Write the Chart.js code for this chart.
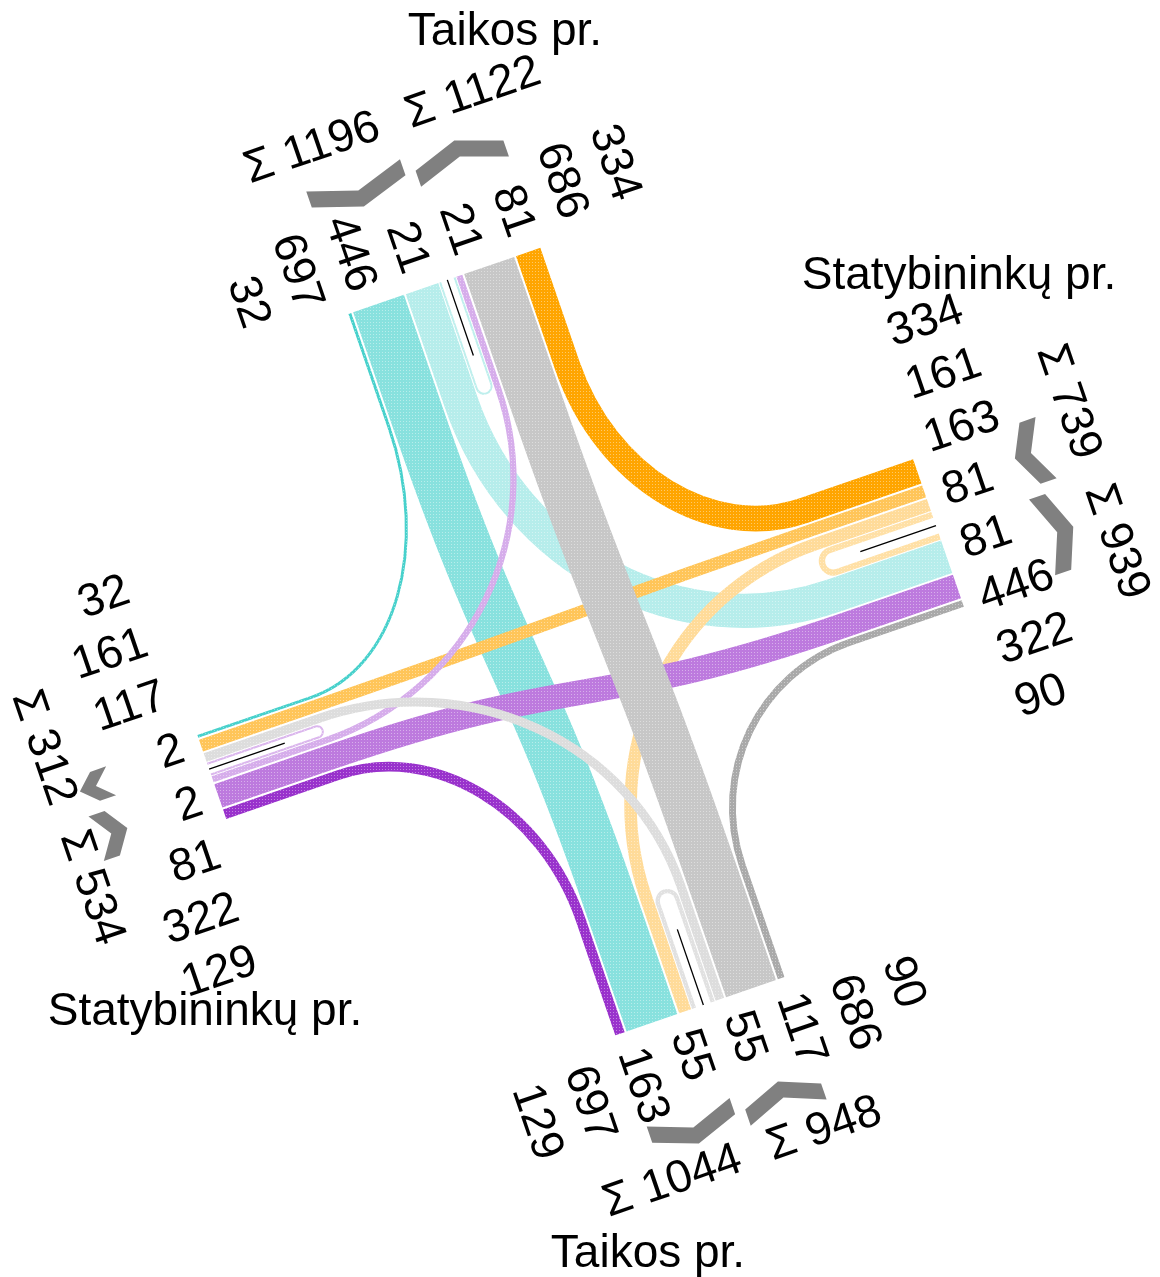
<!DOCTYPE html>
<html lang="lt">
<head>
<meta charset="utf-8">
<title>Taikos pr. / Statybininkų pr.</title>
<script src="https://cdn.jsdelivr.net/npm/chart.js@4.4.1/dist/chart.umd.min.js"></script>
<style>
  html, body { margin: 0; padding: 0; background: #ffffff; }
  canvas { display: block; }
</style>
</head>
<body>
<canvas id="flows" width="1160" height="1277"></canvas>
<script>
// approaches, clockwise from the top of the picture
const approaches = ['N', 'E', 'S', 'W']
const streetNames = ['Taikos pr.', 'Statybininkų pr.', 'Taikos pr.', 'Statybininkų pr.']

// counted vehicles leaving each approach: [u-turn, left, straight, right]
const fromN = [21, 446, 697, 32]
const fromE = [81, 163, 161, 334]
const fromS = [55, 117, 686, 90]
const fromW = [2, 81, 322, 129]

// colour family per approach, and how much white goes in per movement
const familyColors = ['#48D1CC', '#FFA500', '#A9A9A9', '#9932CC']
const movementTint = [0.65, 0.6, 0.35, 0]

const counts = [fromN, fromE, fromS, fromW]

// ---- layout (local frame: u to the right, v down, then turned by ROT) ----
const CX = 588, CY = 627
const ROT = -19 * Math.PI / 180
const COS = Math.cos(ROT), SIN = Math.sin(ROT)
const PX_PER_VEH = 0.077
const MIN_W = 3
const GAP = 2
const STRAIGHT_RUN = 120
const U_LEN = 120
const KAPPA = 0.5523
const LABEL_STEP = 56
const FONT = '46px "Liberation Sans", Arial, Helvetica, sans-serif'

const arms = [
    {out: [0, -1], lat: [1, 0], base: [-20, 0], end: 374, sumGap: 168},
    {out: [1, 0], lat: [0, 1], base: [0, 17.5], end: 362, sumGap: 165},
    {out: [0, 1], lat: [-1, 0], base: [-14, 0], end: 395, sumGap: 157},
    {out: [-1, 0], lat: [0, -1], base: [0, 11], end: 404.5, sumGap: 150},
]
const streetPos = [[505, 45], [959, 289], [648, 1267], [205, 1025]]

function laneWidth(n) {
    return Math.max(n * PX_PER_VEH, MIN_W)
}

function uHalf(n) {
    return 7.5 + 0.1 * n
}

function local(a, d, lat) {
    const g = arms[a]
    return [g.base[0] + d * g.out[0] + lat * g.lat[0], g.base[1] + d * g.out[1] + lat * g.lat[1]]
}

function screen(p) {
    return {x: CX + p[0] * COS - p[1] * SIN, y: CY + p[0] * SIN + p[1] * COS}
}

function lerp(p, q, t) {
    return [p[0] + (q[0] - p[0]) * t, p[1] + (q[1] - p[1]) * t]
}

function meet(p, d, q, e) {
    const cross = (a, b) => a[0] * b[1] - a[1] * b[0]
    const s = cross([q[0] - p[0], q[1] - p[1]], e) / cross(d, e)
    return [p[0] + s * d[0], p[1] + s * d[1]]
}

function mixWhite(hex, f) {
    const n = parseInt(hex.slice(1), 16)
    const m = c => Math.round(c + (255 - c) * f)
    return 'rgb(' + m((n >> 16) & 255) + ',' + m((n >> 8) & 255) + ',' + m(n & 255) + ')'
}

// lateral lane positions: entry lanes on the negative side, exit lanes on the positive side
const entryLat = [], exitLat = [], entryWidth = [], exitWidth = []
for (let a = 0; a < 4; a++) {
    let off = uHalf(counts[a][0])
    entryLat[a] = []
    for (let k = 1; k <= 3; k++) {
        const w = laneWidth(counts[a][k])
        entryLat[a][k] = -(off + w / 2)
        off += w + GAP
    }
    entryWidth[a] = off - GAP
}
for (let b = 0; b < 4; b++) {
    let off = uHalf(counts[b][0])
    exitLat[b] = []
    for (let k = 1; k <= 3; k++) {
        const a = (b + 4 - k) % 4
        const w = laneWidth(counts[a][k])
        exitLat[b][a] = off + w / 2
        off += w + GAP
    }
    exitWidth[b] = off - GAP
}

const datasets = []

// ribbons, movement k of approach a ends on arm (a + k) % 4
const drawOrder = [0, 1, 3, 2]
drawOrder.forEach(function(a) {
    for (let k = 3; k >= 1; k--) {
        const b = (a + k) % 4
        const ga = arms[a], gb = arms[b]
        const p0 = local(a, ga.end, entryLat[a][k])
        const p1 = local(a, ga.end - STRAIGHT_RUN, entryLat[a][k])
        const p2 = local(b, gb.end - STRAIGHT_RUN, exitLat[b][a])
        const p3 = local(b, gb.end, exitLat[b][a])
        let c1, c2
        if (k === 2) {
            const len = 0.5 * Math.hypot(p2[0] - p1[0], p2[1] - p1[1])
            c1 = [p1[0] - ga.out[0] * len, p1[1] - ga.out[1] * len]
            c2 = [p2[0] - gb.out[0] * len, p2[1] - gb.out[1] * len]
        } else {
            const corner = meet(p1, ga.out, p2, gb.out)
            c1 = lerp(p1, corner, KAPPA)
            c2 = lerp(p2, corner, KAPPA)
        }
        const tint = movementTint[k]
        datasets.push({
            kind: 'flow',
            label: approaches[a] + ' → ' + approaches[b] + ': ' + counts[a][k],
            data: [p0, p1, c1, c2, p2, p3].map(screen),
            ribbonWidth: laneWidth(counts[a][k]),
            fillColor: mixWhite(familyColors[a], tint),
            dotColor: mixWhite(familyColors[a], tint + (1 - tint) * 0.4),
        })
    }
})

// u-turn loops
for (let a = 0; a < 4; a++) {
    const g = arms[a]
    const n = counts[a][0]
    const sw = Math.max(n * PX_PER_VEH, 2)
    const off = uHalf(n) - GAP / 2 - sw / 2
    const dBend = g.end - U_LEN + off
    const tint = movementTint[0]
    datasets.push({
        kind: 'uturn',
        label: approaches[a] + ' u-turn: ' + n,
        data: [
            local(a, g.end, -off), local(a, dBend, -off), local(a, g.end - U_LEN, 0),
            local(a, dBend, off), local(a, g.end, off),
            local(a, g.end, 0), local(a, g.end - 80, 0), local(a, dBend, 0),
        ].map(screen),
        ribbonWidth: sw,
        fillColor: mixWhite(familyColors[a], tint),
        dotColor: mixWhite(familyColors[a], tint + (1 - tint) * 0.4),
    })
}

// direction chevrons beside the sums
const CHEV_T = 17
function chevron(a, latIn, latOut, dEnds, dTip) {
    const latMid = (latIn + latOut) / 2
    const pts = [
        [latIn, dEnds + CHEV_T / 2], [latMid, dTip + CHEV_T / 2], [latOut, dEnds + CHEV_T / 2],
        [latOut, dEnds - CHEV_T / 2], [latMid, dTip - CHEV_T / 2], [latIn, dEnds - CHEV_T / 2],
    ]
    return pts.map(p => screen(local(a, p[1], p[0])))
}
for (let a = 0; a < 4; a++) {
    const g = arms[a]
    datasets.push({kind: 'chevron', label: 'in ' + approaches[a], data: chevron(a, -5.5, -entryWidth[a], g.end + 121, g.end + 105)})
    datasets.push({kind: 'chevron', label: 'out ' + approaches[a], data: chevron(a, 5.5, exitWidth[a], g.end + 105, g.end + 121)})
}

// text: counts beside every lane, sums beside the chevrons
const textItems = []
for (let a = 0; a < 4; a++) {
    const g = arms[a]
    const along = g.out[0] !== 0 ? [1, 0] : [0, 1]
    const across = along[0] ? [0, 1] : [1, 0]
    const rotAlong = along[0] ? ROT : ROT + Math.PI / 2
    const rotAcross = across[0] ? ROT : ROT + Math.PI / 2
    const c = counts[a]
    const values = [c[3], c[2], c[1], c[0],
                    c[0], counts[(a + 3) % 4][1], counts[(a + 2) % 4][2], counts[(a + 1) % 4][3]]
    const alignAlong = (along[0] * g.out[0] + along[1] * g.out[1]) > 0 ? 'left' : 'right'
    values.forEach(function(val, j) {
        const p = screen(local(a, g.end + 18, (j - 3.5) * LABEL_STEP))
        textItems.push({text: String(val), x: p.x, y: p.y, rot: rotAlong, align: alignAlong})
    })
    const sums = [[-1, values.slice(0, 4).reduce((s, x) => s + x, 0)],
                  [1, values.slice(4).reduce((s, x) => s + x, 0)]]
    sums.forEach(function(item) {
        const side = item[0]
        const p = screen(local(a, g.end + g.sumGap, side * 15))
        const d = across[0] * g.lat[0] * side + across[1] * g.lat[1] * side
        textItems.push({text: 'Σ ' + item[1], x: p.x, y: p.y, rot: rotAcross, align: d > 0 ? 'left' : 'right'})
    })
}

const patternCache = {}
function dotted(ctx, fill, dots) {
    const key = fill + dots
    if (!patternCache[key]) {
        const tile = document.createElement('canvas')
        tile.width = 3
        tile.height = 3
        const t = tile.getContext('2d')
        t.fillStyle = fill
        t.fillRect(0, 0, 3, 3)
        t.fillStyle = dots
        t.fillRect(1, 1, 1, 1)
        patternCache[key] = ctx.createPattern(tile, 'repeat')
    }
    return patternCache[key]
}

const flowPlugin = {
    id: 'flowPlugin',
    beforeDatasetsDraw(chart) {
        const ctx = chart.ctx
        chart.data.datasets.forEach(function(ds, i) {
            const p = chart.getDatasetMeta(i).data.map(e => [e.x, e.y])
            ctx.save()
            if (ds.kind === 'flow') {
                ctx.beginPath()
                ctx.moveTo(p[0][0], p[0][1])
                ctx.lineTo(p[1][0], p[1][1])
                ctx.bezierCurveTo(p[2][0], p[2][1], p[3][0], p[3][1], p[4][0], p[4][1])
                ctx.lineTo(p[5][0], p[5][1])
                ctx.lineWidth = ds.ribbonWidth
                ctx.lineCap = 'butt'
                ctx.strokeStyle = dotted(ctx, ds.fillColor, ds.dotColor)
                ctx.stroke()
            } else if (ds.kind === 'uturn') {
                const ctr = p[7]
                const r = Math.hypot(p[1][0] - ctr[0], p[1][1] - ctr[1])
                const v1 = [p[1][0] - ctr[0], p[1][1] - ctr[1]]
                const v2 = [p[2][0] - ctr[0], p[2][1] - ctr[1]]
                const a1 = Math.atan2(v1[1], v1[0])
                const a2 = Math.atan2(p[3][1] - ctr[1], p[3][0] - ctr[0])
                const ccw = (v1[0] * v2[1] - v1[1] * v2[0]) < 0
                ctx.beginPath()
                ctx.moveTo(p[0][0], p[0][1])
                ctx.lineTo(p[1][0], p[1][1])
                ctx.arc(ctr[0], ctr[1], r, a1, a2, ccw)
                ctx.lineTo(p[4][0], p[4][1])
                ctx.lineWidth = ds.ribbonWidth
                ctx.strokeStyle = dotted(ctx, ds.fillColor, ds.dotColor)
                ctx.stroke()
                ctx.beginPath()
                ctx.moveTo(p[5][0], p[5][1])
                ctx.lineTo(p[6][0], p[6][1])
                ctx.lineWidth = 1.3
                ctx.strokeStyle = '#000000'
                ctx.stroke()
            } else if (ds.kind === 'chevron') {
                ctx.beginPath()
                p.forEach((q, n) => n ? ctx.lineTo(q[0], q[1]) : ctx.moveTo(q[0], q[1]))
                ctx.closePath()
                ctx.fillStyle = '#808080'
                ctx.fill()
            }
            ctx.restore()
        })
    },
    afterDatasetsDraw(chart) {
        const ctx = chart.ctx
        const xs = chart.scales.x, ys = chart.scales.y
        ctx.save()
        ctx.font = FONT
        ctx.fillStyle = '#000000'
        ctx.textBaseline = 'middle'
        textItems.forEach(function(t) {
            ctx.save()
            ctx.translate(xs.getPixelForValue(t.x), ys.getPixelForValue(t.y))
            ctx.rotate(t.rot)
            ctx.textAlign = t.align
            ctx.fillText(t.text, 0, 0)
            ctx.restore()
        })
        ctx.textBaseline = 'alphabetic'
        ctx.textAlign = 'center'
        streetNames.forEach(function(name, a) {
            ctx.fillText(name, xs.getPixelForValue(streetPos[a][0]), ys.getPixelForValue(streetPos[a][1]))
        })
        ctx.restore()
    },
}

new Chart(document.getElementById('flows'), {
    type: 'scatter',
    data: {datasets: datasets},
    options: {
        responsive: false,
        animation: false,
        events: [],
        layout: {padding: 0},
        elements: {point: {radius: 0, hoverRadius: 0}},
        scales: {
            x: {type: 'linear', min: 0, max: 1160, display: false},
            y: {type: 'linear', min: 0, max: 1277, reverse: true, display: false},
        },
        plugins: {
            legend: {display: false},
            tooltip: {enabled: false},
        },
    },
    plugins: [flowPlugin],
})
</script>
</body>
</html>
